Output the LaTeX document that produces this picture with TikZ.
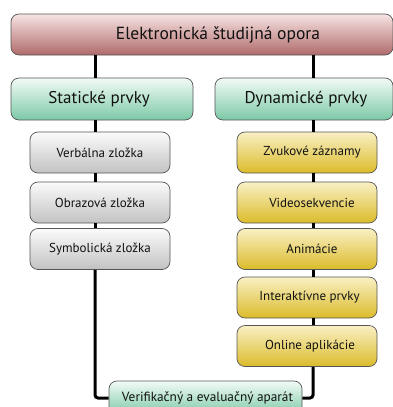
\documentclass[tikz,border=0pt]{standalone}
\usepackage{fontspec}
\setmainfont{PT Sans}
\definecolor{roseT}{HTML}{F7E4E4}
\definecolor{roseB}{HTML}{B06A6A}
\definecolor{greenT}{HTML}{F2FBF6}
\definecolor{greenB}{HTML}{7CC9A6}
\definecolor{grayT}{HTML}{FBFBFB}
\definecolor{grayB}{HTML}{C2C2C2}
\definecolor{yelT}{HTML}{F9F0C4}
\definecolor{yelB}{HTML}{DBBB2A}
\definecolor{edge}{HTML}{555555}
\definecolor{txt}{HTML}{111111}
\tikzset{
  box/.style={draw=edge, line width=0.7pt, rounded corners=8pt, inner sep=0pt, align=center, text=txt},
  topbox/.style={box, top color=roseT, bottom color=roseB, minimum width=382pt, minimum height=41pt, font=\fontsize{17.5}{19}\selectfont},
  catbox/.style={box, top color=greenT, bottom color=greenB, minimum height=42pt, font=\fontsize{17}{19}\selectfont},
  graybox/.style={box, top color=grayT, bottom color=grayB, minimum width=140pt, minimum height=41pt, font=\fontsize{13}{15}\selectfont},
  yelbox/.style={box, top color=yelT, bottom color=yelB, minimum width=140pt, minimum height=41pt, font=\fontsize{13}{15}\selectfont},
  botbox/.style={box, top color=greenT, bottom color=greenB, minimum width=193pt, minimum height=34pt, font=\fontsize{13.3}{15}\selectfont},
  link/.style={line width=3pt, black},
}
\newcommand{\shiftR}[2]{\hspace*{#1}#2}
\begin{document}
\begin{tikzpicture}[x=1pt,y=-1pt]
\clip (0,0) rectangle (393,407);
\useasboundingbox (0,0) rectangle (393,407);
\coordinate (L) at (95,0);
\coordinate (R) at (313,0);
\node[topbox] (top) at (202,34.5) {\shiftR{32pt}{Elektronická študijná opora}};
\node[catbox, minimum width=182pt] (stat) at (102,99) {Statické prvky\hspace*{6pt}};
\node[catbox, minimum width=178pt] (dyn) at (304,99) {\shiftR{4pt}{Dynamické prvky}};
\node[graybox] (verb) at (100,152.5) {Verbálna zložka};
\node[graybox] (obr) at (100,202.5) {Obrazová zložka};
\node[graybox] (sym) at (100,249) {Symbolická zložka};
\node[yelbox] (zvuk) at (307,152.5) {\shiftR{10pt}{Zvukové záznamy}};
\node[yelbox] (video) at (307,202.5) {\shiftR{10pt}{Videosekvencie}};
\node[yelbox] (anim) at (307,249) {\shiftR{10pt}{Animácie}};
\node[yelbox] (inter) at (307,297.5) {\shiftR{5pt}{Interaktívne prvky}};
\node[yelbox] (online) at (307,346) {\shiftR{6pt}{Online aplikácie}};
\node[botbox] (ver) at (205.5,398) {\raisebox{2pt}{\shiftR{4pt}{Verifikačný a evaluačný aparát}}};
\draw[link] (top.south -| L) -- (stat.north -| L);
\draw[link] (top.south -| R) -- (dyn.north -| R);
\draw[link] (stat.south -| L) -- (verb.north -| L);
\draw[link] (verb.south -| L) -- (obr.north -| L);
\draw[link] (obr.south -| L) -- (sym.north -| L);
\draw[link] (dyn.south -| R) -- (zvuk.north -| R);
\draw[link] (zvuk.south -| R) -- (video.north -| R);
\draw[link] (video.south -| R) -- (anim.north -| R);
\draw[link] (anim.south -| R) -- (inter.north -| R);
\draw[link] (inter.south -| R) -- (online.north -| R);
\draw[link, rounded corners=3pt] (sym.south -| L) |- (ver.west);
\draw[link, rounded corners=3pt] (online.south -| R) |- (ver.east);
\end{tikzpicture}
\end{document}
